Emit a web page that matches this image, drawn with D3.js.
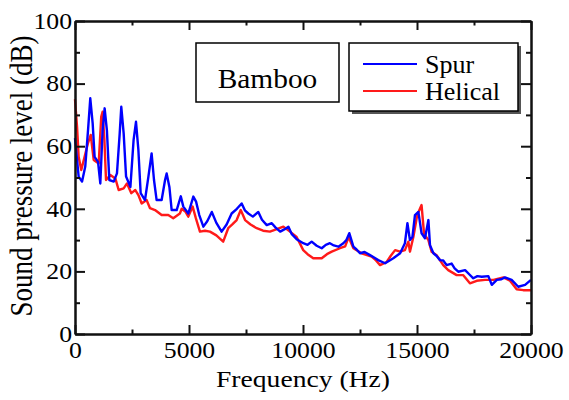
<!DOCTYPE html>
<html>
<head>
<meta charset="utf-8">
<script src="https://cdn.jsdelivr.net/npm/d3@7"></script>
<style>
  body { margin: 0; background: #fff; }
  svg text { font-family: "Liberation Serif", "Times New Roman", serif; fill: #000; }
</style>
</head>
<body>
<svg id="chart" width="569" height="400"></svg>
<script>
var spurFreq = [0, 160, 310, 450, 570, 670, 775, 860, 1010, 1110, 1210, 1300, 1400, 1505, 1700, 1840, 1960, 2030, 2135, 2240, 2430, 2570, 2675, 2780, 2880, 3070, 3220, 3360, 3465, 3580, 3800, 3950, 4020, 4140, 4240, 4460, 4640, 4750, 4970, 5190, 5310, 5450, 5630, 5800, 6000, 6200, 6430, 6650, 6870, 7100, 7310, 7450, 7600, 7800, 8040, 8200, 8410, 8630, 8800, 9000, 9200, 9360, 9500, 9720, 10010, 10200, 10380, 10600, 10820, 11000, 11180, 11350, 11550, 11770, 11900, 12030, 12210, 12350, 12500, 12700, 12940, 13100, 13300, 13600, 13800, 13960, 14260, 14470, 14580, 14690, 14800, 14910, 15060, 15200, 15350, 15500, 15570, 15720, 15850, 16010, 16150, 16300, 16520, 16650, 16810, 17110, 17300, 17470, 17650, 17840, 18130, 18280, 18500, 18700, 18860, 19150, 19440, 19740, 20000];
var spurDb = [62.6, 50.3, 48.7, 53.5, 65, 75.3, 67.3, 56.6, 55, 48.1, 65, 72.1, 65, 49.2, 48.7, 51.3, 64, 72.6, 64, 50.3, 47, 62, 67.8, 58.8, 45, 42.8, 50.3, 57.7, 49.2, 42.8, 42.8, 49.2, 51.3, 47, 39.6, 39.6, 44, 40.7, 38.5, 43.9, 42.3, 38, 34.3, 36, 39, 35.5, 32.7, 35, 38.5, 40, 41.7, 39.5, 38.5, 37.5, 39, 36.5, 34.8, 35.4, 34, 32.7, 33.5, 34.3, 32, 30.3, 29, 28.5, 29.5, 28.2, 27.4, 28.5, 29, 28.3, 27.9, 29, 30, 32.2, 27.9, 27, 25.8, 26.2, 25.2, 24.5, 23.6, 22.6, 23.5, 24.2, 25.8, 29, 35.4, 30, 31, 38, 39, 32.2, 30.6, 36.4, 28.4, 25.8, 25, 23.6, 23.5, 22, 22.5, 21, 19.9, 20.4, 19, 17.8, 18.5, 18.3, 18.5, 15.7, 17.3, 17.5, 18.1, 17.3, 15.1, 15.7, 17.3];

var helicalFreq = [0, 90, 160, 275, 420, 570, 690, 820, 1040, 1150, 1210, 1290, 1360, 1550, 1770, 1915, 2135, 2280, 2470, 2645, 2780, 2925, 3140, 3290, 3510, 3800, 4090, 4310, 4600, 4680, 4850, 4970, 5160, 5300, 5480, 5700, 5920, 6200, 6500, 6720, 6900, 7090, 7270, 7460, 7700, 7970, 8250, 8550, 8850, 9140, 9430, 9720, 10010, 10200, 10450, 10820, 11050, 11260, 11620, 11850, 12000, 12210, 12570, 13010, 13200, 13380, 13670, 13850, 14040, 14260, 14470, 14620, 14690, 14840, 15010, 15200, 15310, 15500, 15640, 15860, 16150, 16370, 16740, 17030, 17320, 17620, 17980, 18350, 18790, 19080, 19370, 19660, 20000];
var helicalDb = [75, 66.2, 56.6, 52.4, 56.6, 61, 63.6, 55.6, 54.5, 69.4, 71, 62, 49.2, 50.8, 49.7, 46, 46.5, 48.1, 45, 46, 44.4, 41.7, 42.8, 40.2, 39.6, 38, 38, 37, 38.5, 40, 39, 37.5, 40.7, 37, 32.7, 33, 32.7, 31.5, 29.5, 33.8, 35, 36.4, 39.6, 36.4, 35, 33.8, 33, 32.7, 33.5, 34.3, 32.7, 31, 26.8, 25.5, 24.2, 24.2, 25.5, 26.3, 27.4, 28, 31, 27.4, 25.8, 24.7, 23.5, 22, 23, 25, 26.8, 26.3, 26.8, 29.5, 26.3, 31, 38, 41.2, 32, 30, 26.3, 25.2, 22, 20.4, 18.8, 18.8, 16.2, 17, 17.3, 17.3, 18.1, 17, 14.3, 14, 14];

var xTicks = [0, 5000, 10000, 15000, 20000];
var xMinorTicks = [2500, 7500, 12500, 17500];
var yTicks = [0, 20, 40, 60, 80, 100];
var yMinorTicks = [10, 30, 50, 70, 90];

var plotLeft = 75, plotRight = 531, plotTop = 21, plotBottom = 334;

var svg = d3.select("#chart");

var x = d3.scaleLinear().domain([0, 20000]).range([plotLeft, plotRight]);
var y = d3.scaleLinear().domain([0, 100]).range([plotBottom, plotTop]);

function stretchText(sel, k) {
  sel.selectAll("text").each(function() {
    var t = d3.select(this);
    var tx = +t.attr("x") || 0;
    t.attr("x", tx / k).attr("transform", "scale(" + k + ",1)");
  });
}

// curves
var line = d3.line()
  .x(function(d) { return x(d[0]); })
  .y(function(d) { return y(d[1]); });

var series = [
  { freq: helicalFreq, db: helicalDb, color: "#ff1a1a" },
  { freq: spurFreq, db: spurDb, color: "#0000ff" }
];

series.forEach(function(s) {
  var pts = s.freq.map(function(f, i) { return [f, s.db[i]]; });
  svg.append("path")
    .datum(pts)
    .attr("d", line)
    .attr("fill", "none")
    .attr("stroke", s.color)
    .attr("stroke-width", 2.4)
    .attr("stroke-linejoin", "round");
});

// axes, ticks point inward on all four sides
var axes = [
  { axis: d3.axisBottom(x).tickValues(xTicks).tickFormat(d3.format("d")).tickSize(-9).tickPadding(8), at: "translate(0," + plotBottom + ")", labels: true },
  { axis: d3.axisBottom(x).tickValues(xMinorTicks).tickFormat("").tickSize(-4.5), at: "translate(0," + plotBottom + ")" },
  { axis: d3.axisTop(x).tickValues(xTicks).tickFormat("").tickSize(-9), at: "translate(0," + plotTop + ")" },
  { axis: d3.axisTop(x).tickValues(xMinorTicks).tickFormat("").tickSize(-4.5), at: "translate(0," + plotTop + ")" },
  { axis: d3.axisLeft(y).tickValues(yTicks).tickSize(-10).tickPadding(3), at: "translate(" + plotLeft + ",0)", labels: true },
  { axis: d3.axisLeft(y).tickValues(yMinorTicks).tickFormat("").tickSize(-5), at: "translate(" + plotLeft + ",0)" },
  { axis: d3.axisRight(y).tickValues(yTicks).tickFormat("").tickSize(-10), at: "translate(" + plotRight + ",0)" },
  { axis: d3.axisRight(y).tickValues(yMinorTicks).tickFormat("").tickSize(-5), at: "translate(" + plotRight + ",0)" }
];

axes.forEach(function(a) {
  var g = svg.append("g")
    .attr("transform", a.at)
    .call(a.axis.tickSizeOuter(0));
  g.select(".domain").attr("stroke", "#111").attr("stroke-width", 2);
  g.selectAll(".tick line").attr("stroke", "#111").attr("stroke-width", 2);
  g.attr("font-family", null).attr("font-size", null);
  if (a.labels) {
    g.selectAll("text").attr("font-size", 23).attr("fill", "#000");
    stretchText(g, 1.12);
  }
});

// axis titles
svg.append("text")
  .attr("transform", "translate(303,387) scale(1.15,1)")
  .attr("text-anchor", "middle")
  .attr("font-size", 24)
  .text("Frequency (Hz)");

svg.append("text")
  .attr("transform", "translate(32,176) rotate(-90) scale(1,1.15)")
  .attr("text-anchor", "middle")
  .attr("font-size", 27)
  .text("Sound pressure level (dB)");

// "Bamboo" label box
svg.append("rect")
  .attr("x", 196).attr("y", 43)
  .attr("width", 143).attr("height", 59)
  .attr("fill", "#fff").attr("stroke", "#000").attr("stroke-width", 1.5);

svg.append("text")
  .attr("transform", "translate(267.5,88) scale(1.05,1)")
  .attr("text-anchor", "middle")
  .attr("font-size", 28)
  .text("Bamboo");

// legend with drop shadow
svg.append("rect")
  .attr("x", 352).attr("y", 46)
  .attr("width", 169).attr("height", 68)
  .attr("fill", "#555");

svg.append("rect")
  .attr("x", 349).attr("y", 43)
  .attr("width", 169).attr("height", 68)
  .attr("fill", "#fff").attr("stroke", "#000").attr("stroke-width", 1.5);

var legendItems = [
  { name: "Spur", color: "#0000ff", ly: 64, ty: 73 },
  { name: "Helical", color: "#ff1a1a", ly: 91, ty: 100 }
];

legendItems.forEach(function(d) {
  svg.append("line")
    .attr("x1", 363).attr("x2", 417)
    .attr("y1", d.ly).attr("y2", d.ly)
    .attr("stroke", d.color).attr("stroke-width", 2);
  svg.append("text")
    .attr("x", 425).attr("y", d.ty)
    .attr("font-size", 26)
    .text(d.name);
});
</script>
</body>
</html>
